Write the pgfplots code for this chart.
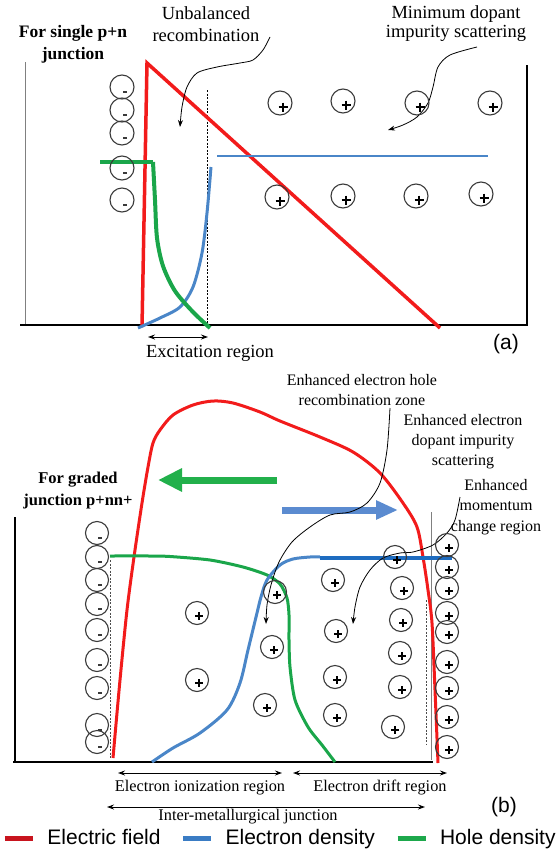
\documentclass[border=0pt]{standalone}
\usepackage{fontspec}
\setmainfont{Liberation Serif}
\setsansfont{Liberation Sans}
\usepackage{pgfplots}
\pgfplotsset{compat=1.18}
\usetikzlibrary{arrows.meta}
\definecolor{efield}{HTML}{F21B1B}
\definecolor{edens}{HTML}{4A86C8}
\definecolor{edark}{HTML}{1E6CC0}
\definecolor{hdens}{HTML}{1AA64A}
\definecolor{ion}{HTML}{3A3A3A}
\definecolor{legred}{HTML}{C8141E}
\definecolor{legblue}{HTML}{3A7CC4}
\definecolor{leggreen}{HTML}{1DA84C}
\definecolor{arrblue}{HTML}{5B8BD0}
\definecolor{arrgreen}{HTML}{22B04B}
\pgfplotsset{
  note/.style={smooth, black, line width=0.8pt, -{Stealth[length=7pt,width=5pt]}, forget plot},
  span/.style={black, line width=1pt, {Stealth[length=7pt,width=5pt]}-{Stealth[length=7pt,width=5pt]}, forget plot},
}
\begin{document}
\begin{tikzpicture}
\begin{axis}[
  x=1pt, y=1pt,
  xmin=0, xmax=555, ymin=0, ymax=854,
  y dir=reverse,
  hide axis, clip=false,
  legend columns=3,
  legend image code/.code={\draw[#1, line width=5pt] (0pt,0pt) -- (28pt,0pt);},
  legend style={at={(axis cs:279,838)}, anchor=center, draw=none, fill=none,
    font=\sffamily\fontsize{21}{24}\selectfont,
    nodes={inner sep=0pt},
    /tikz/every odd column/.append style={column sep=12pt},
    /tikz/every even column/.append style={column sep=20pt}},
]
% ---------------- panel (a) ----------------
\addplot[gray, line width=1pt, forget plot] coordinates {(25,62) (25,325)};
\addplot[black, line width=1.3pt, forget plot] coordinates {(20,325) (527,325) (527,65)};
\addplot[black, line width=0.8pt, dash pattern=on 2pt off 1.5pt, forget plot] coordinates {(207,90) (207,325)};

% ions
\addplot[only marks, mark=o, mark size=12pt, ion, mark options={line width=1.1pt}, forget plot]
  coordinates {(122,87) (122,110) (122,133) (122,168) (122,200)};
\addplot[only marks, mark=-, mark size=2pt, ion, mark options={xshift=3pt, yshift=-5pt, line width=1.4pt}, forget plot]
  coordinates {(122,87) (122,110) (122,133) (122,168) (122,200)};
\addplot[only marks, mark=o, mark size=12pt, ion, mark options={line width=1.1pt}, forget plot]
  coordinates {(280,103) (343,101) (417,103) (490,103) (277,197) (343,196) (416,196) (481,194)};
\addplot[only marks, mark=+, mark size=4.5pt, black, mark options={xshift=3pt, yshift=-4pt, line width=1.3pt}, forget plot]
  coordinates {(280,103) (343,101) (417,103) (490,103) (277,197) (343,196) (416,196) (481,194)};

% curves
\addplot[efield, line width=3.5pt, forget plot] coordinates {(142,327) (147,63) (440,328)};
\addplot[edens, line width=2pt, forget plot] coordinates {(217,156) (488,156)};
\addplot[edens, line width=3pt, smooth, forget plot]
  coordinates {(138,328) (160,318) (180,307) (193,287) (202,253) (207,213) (211,167)};
\addplot[hdens, line width=4pt, forget plot] coordinates {(100,162) (153,162)};
\addplot[hdens, line width=4pt, smooth, forget plot]
  coordinates {(153,162) (155,200) (157,238) (163,266) (175,291) (193,312) (210,328)};

% notes
\addplot[note] coordinates {(270,37) (263,50) (253,60) (240,63) (217,67) (197,73) (187,87) (182,107) (180,127)};
\addplot[note] coordinates {(477,47) (450,55) (438,67) (433,87) (428,103) (417,117) (403,125) (388,130)};
\addplot[span] coordinates {(148,337) (208,337)};

\node[font=\bfseries\fontsize{17.5}{22}\selectfont, align=center] at (73,44) {For single p+n\\junction};
\node[font=\fontsize{18.5}{22}\selectfont, align=center] at (206,24) {Unbalanced\\recombination};
\node[font=\fontsize{18.5}{19}\selectfont, align=center] at (456,24) {Minimum dopant\\impurity scattering};
\node[font=\fontsize{18.5}{22}\selectfont] at (210,353) {Excitation region};
\node[font=\sffamily\fontsize{21}{24}\selectfont] at (506,344) {(a)};

% ---------------- panel (b) ----------------
\addplot[black, line width=1.3pt, forget plot] coordinates {(15,517) (15,762)};
\addplot[black, line width=1.3pt, forget plot] coordinates {(13,762) (433,762)};
\addplot[gray, line width=1pt, forget plot] coordinates {(431,512) (431,760)};
\addplot[black!70, line width=0.8pt, dash pattern=on 2pt off 1.5pt, forget plot] coordinates {(110,560) (110,758)};
\addplot[black!70, line width=0.8pt, dash pattern=on 2pt off 1.5pt, forget plot] coordinates {(426,600) (426,745)};

% ions
\addplot[only marks, mark=o, mark size=11.5pt, ion, mark options={line width=1.1pt}, forget plot]
  coordinates {(97,533) (97,557) (97,580) (97,604) (97,630) (97,660) (97,688) (97,725) (97,742)};
\addplot[only marks, mark=-, mark size=2pt, ion, mark options={xshift=3pt, yshift=-5pt, line width=1.4pt}, forget plot]
  coordinates {(97,533) (97,557) (97,580) (97,604) (97,630) (97,660) (97,688) (97,725) (97,742)};
\addplot[only marks, mark=o, mark size=11.5pt, ion, mark options={line width=1.1pt}, forget plot]
  coordinates {(197,613) (197,680) (275,592) (272,647) (265,705) (333,580) (336,631) (335,677) (335,715)
    (395,557) (402,588) (401,620) (400,653) (400,687) (393,727)
    (447,545) (447,567) (447,588) (447,613) (447,632) (447,662) (447,688) (447,717) (447,747)};
\addplot[only marks, mark=+, mark size=4pt, black, mark options={xshift=2pt, yshift=-3pt, line width=1.3pt}, forget plot]
  coordinates {(197,613) (197,680) (275,592) (272,647) (265,705) (333,580) (336,631) (335,677) (335,715)
    (395,557) (402,588) (401,620) (400,653) (400,687) (393,727)
    (447,545) (447,567) (447,588) (447,613) (447,632) (447,662) (447,688) (447,717) (447,747)};

% curves
\addplot[efield, line width=3pt, smooth, forget plot]
  coordinates {(113,758) (120,680) (127,610) (134,557) (142,503) (148,467) (153,443) (160,430) (173,415)
    (193,405) (213,401) (233,403) (260,412) (280,421) (320,437) (353,452) (380,473) (403,503)
    (417,527) (423,557) (428,590) (432,623) (435,690) (438,763)};
\addplot[hdens, line width=3pt, smooth, tension=0.45, forget plot]
  coordinates {(110,556) (150,556) (170,556.5) (210,560) (243,567) (267,575) (280,584) (287,598)
    (289,615) (289,640) (290,667) (295,700) (308,727) (322,745) (335,762)};
\addplot[edens, line width=3pt, smooth, forget plot]
  coordinates {(152,762) (173,748) (200,733) (227,710) (240,683) (248,650) (257,613) (261,597)
    (267,580) (280,565) (293,559) (310,557) (320,557)};
\addplot[edark, line width=4.5pt, forget plot] coordinates {(320,558) (452,558)};

% direction arrows
\addplot[arrgreen, line width=7pt, -{Triangle[length=24pt,width=22pt]}, forget plot]
  coordinates {(277,480) (158,480)};
\addplot[arrblue, line width=7pt, -{Triangle[length=22pt,width=18pt]}, forget plot]
  coordinates {(282,510) (398,510)};

% notes
\addplot[note] coordinates {(390,408) (387,450) (380,483) (367,503) (350,512) (330,515) (310,527)
  (292,542) (279,562) (271,585) (267,605) (266,624)};
\addplot[note] coordinates {(460,497) (455,520) (447,533) (433,545) (413,552) (400,553) (383,558)
  (370,570) (360,587) (355,607) (353,624)};
\addplot[span] coordinates {(118,773) (282,773)};
\addplot[span] coordinates {(293,773) (447,773)};
\addplot[span] coordinates {(107,807) (425,807)};

\node[font=\bfseries\fontsize{16.5}{22}\selectfont, align=center] at (78,491) {For graded\\junction p+nn+};
\node[font=\fontsize{16}{20}\selectfont, align=center] at (362,390) {Enhanced electron hole\\recombination zone};
\node[font=\fontsize{16}{20}\selectfont, align=center] at (463,442) {Enhanced electron\\dopant impurity\\scattering};
\node[font=\fontsize{16}{20.5}\selectfont, align=center] at (496,507) {Enhanced\\momentum\\change region};
\node[font=\fontsize{16.3}{20}\selectfont] at (200,788) {Electron ionization region};
\node[font=\fontsize{16.3}{20}\selectfont] at (380,788) {Electron drift region};
\node[font=\fontsize{16.3}{20}\selectfont] at (248,817) {Inter-metallurgical junction};
\node[font=\sffamily\fontsize{21}{24}\selectfont] at (504,807) {(b)};

% legend
\addlegendimage{legred}
\addlegendimage{legblue}
\addlegendimage{leggreen}
\legend{Electric field, Electron density, Hole density}
\end{axis}
\pgfresetboundingbox
\path (current axis.south west) rectangle (current axis.north east);
\end{tikzpicture}
\end{document}
